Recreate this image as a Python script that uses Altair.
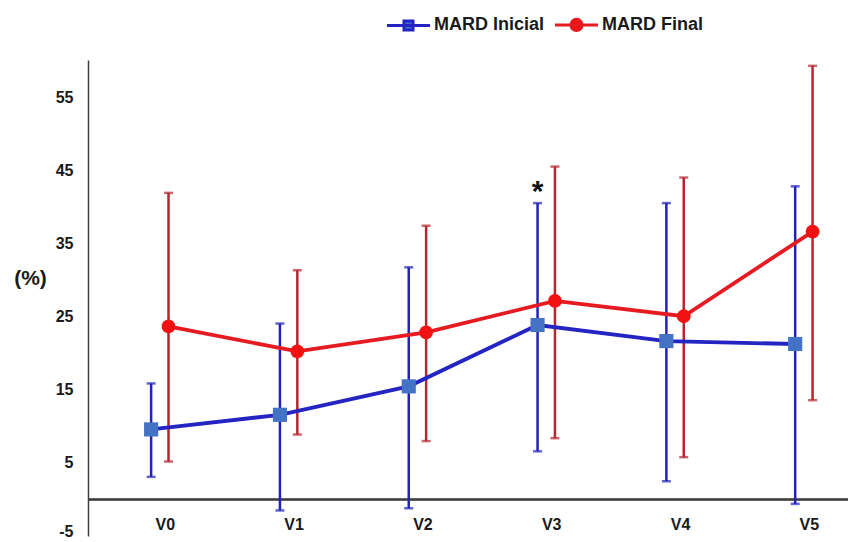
import altair as alt
import pandas as pd

# ---------------- data ----------------
visits = ["V0", "V1", "V2", "V3", "V4", "V5"]
series_names = ["MARD Inicial", "MARD Final"]

inicial_mean = [9.6, 11.6, 15.5, 23.9, 21.7, 21.3]
inicial_low = [3.1, -1.5, -1.2, 6.6, 2.5, -0.6]
inicial_high = [15.9, 24.1, 31.8, 40.6, 40.6, 42.9]

final_mean = [23.7, 20.3, 22.9, 27.2, 25.1, 36.7]
final_low = [5.2, 8.9, 8.0, 8.4, 5.8, 13.6]
final_high = [42.0, 31.4, 37.5, 45.6, 44.1, 59.4]

y_ticks = [-5, 5, 15, 25, 35, 45, 55]
star_visit = "V3"
star_text = "*"

# ---------------- styling ----------------
FONT = "Liberation Sans"
line_colors = {"MARD Inicial": "#2424C2", "MARD Final": "#E61B22"}
bar_colors = {"MARD Inicial": "#2222BB", "MARD Final": "#B5272E"}
marker_colors = {"MARD Inicial": "#4472C4", "MARD Final": "#F21212"}
marker_shapes = {"MARD Inicial": "square", "MARD Final": "circle"}
marker_sizes = {"MARD Inicial": 200, "MARD Final": 190}
x_shift = {"MARD Inicial": -0.01, "MARD Final": 0.125}

legend_paths = [
    "M-2,0H2M-0.42,-0.42H0.42V0.42H-0.42Z",
    "M-2,0H2M0.52,0A0.52,0.52,0,1,1,-0.52,0A0.52,0.52,0,1,1,0.52,0Z",
]

series_data = {
    "MARD Inicial": (inicial_mean, inicial_low, inicial_high),
    "MARD Final": (final_mean, final_low, final_high),
}

rows = []
for s in series_names:
    means, lows, highs = series_data[s]
    for i, v in enumerate(visits):
        rows.append({"series": s, "visit": v, "xpos": i + x_shift[s],
                     "mean": means[i], "low": lows[i], "high": highs[i]})
df = pd.DataFrame(rows)

labels_df = pd.DataFrame({"visit": visits, "lx": [i + 0.1 for i in range(len(visits))]})
star_df = pd.DataFrame({"sx": [visits.index(star_visit) + x_shift["MARD Inicial"]],
                        "txt": [star_text]})

x_scale = alt.Scale(domain=[-0.5, 5.4], nice=False, zero=False)
y_scale = alt.Scale(domain=[-5.0, 60.2], nice=False, zero=False)

y_axis = alt.Axis(
    values=y_ticks, grid=False, ticks=False, domain=True,
    domainColor="#404040", domainWidth=1.5,
    labelFont=FONT, labelFontWeight="bold", labelFontSize=16, labelColor="#1a1a1a",
    labelPadding=15, labelOverlap=False, labelExpr="'' + datum.value",
    labelBaseline={"condition": {"test": "datum.value == -5", "value": "alphabetic"},
                   "value": "middle"},
    title="(%)", titleAngle=0, titleFont=FONT, titleFontSize=21, titleFontWeight="bold",
    titleColor="#1a1a1a", titleX=-58, titleY=218, titleAlign="center", titleBaseline="middle",
)

layers = []

# horizontal axis line at zero
layers.append(
    alt.Chart(labels_df).mark_rule(color="#404040", strokeWidth=1.5).encode(
        y=alt.Y(datum=0, scale=y_scale, axis=y_axis)
    )
)

for s in series_names:
    sub = df[df["series"] == s]
    base = alt.Chart(sub)
    layers.append(
        base.mark_rule(color=bar_colors[s], strokeWidth=2.5).encode(
            x=alt.X("xpos:Q", scale=x_scale, axis=None),
            y=alt.Y("low:Q", scale=y_scale, axis=y_axis),
            y2="high:Q",
        )
    )
    for fld in ["low", "high"]:
        layers.append(
            base.mark_tick(color=bar_colors[s], orient="horizontal", size=9, thickness=2.5).encode(
                x=alt.X("xpos:Q", scale=x_scale, axis=None),
                y=alt.Y(f"{fld}:Q", scale=y_scale, axis=y_axis),
            )
        )

for s in series_names:
    sub = df[df["series"] == s]
    layers.append(
        alt.Chart(sub).mark_line(color=line_colors[s], strokeWidth=3.8).encode(
            x=alt.X("xpos:Q", scale=x_scale, axis=None),
            y=alt.Y("mean:Q", scale=y_scale, axis=y_axis),
        )
    )

for s in series_names:
    sub = df[df["series"] == s]
    layers.append(
        alt.Chart(sub).mark_point(
            shape=marker_shapes[s], filled=True, fill=marker_colors[s],
            color=marker_colors[s], opacity=1, size=marker_sizes[s]
        ).encode(
            x=alt.X("xpos:Q", scale=x_scale, axis=None),
            y=alt.Y("mean:Q", scale=y_scale, axis=y_axis),
        )
    )

# legend-only layer (points placed outside the domain and clipped)
legend_layer = alt.Chart(df).transform_calculate(hidden="-100").mark_point(
    filled=True, clip=True, opacity=1, strokeWidth=3
).encode(
    x=alt.X("xpos:Q", scale=x_scale, axis=None),
    y=alt.Y("hidden:Q", scale=y_scale, axis=y_axis),
    fill=alt.Fill("series:N", scale=alt.Scale(domain=series_names,
                                               range=[marker_colors[s] for s in series_names]),
                  legend=alt.Legend(title=None)),
    stroke=alt.Stroke("series:N", scale=alt.Scale(domain=series_names,
                                                   range=[line_colors[s] for s in series_names]),
                      legend=alt.Legend(title=None)),
    shape=alt.Shape("series:N", scale=alt.Scale(domain=series_names, range=legend_paths),
                    legend=alt.Legend(title=None)),
)
layers.append(legend_layer)

# category labels
layers.append(
    alt.Chart(labels_df).mark_text(
        font=FONT, fontWeight="bold", fontSize=16, color="#1a1a1a", baseline="middle", align="center"
    ).encode(
        x=alt.X("lx:Q", scale=x_scale, axis=None),
        y=alt.Y(datum=-3.5, scale=y_scale, axis=y_axis),
        text="visit:N",
    )
)

# significance marker
layers.append(
    alt.Chart(star_df).mark_text(
        font=FONT, fontWeight="bold", fontSize=30, color="#111111", baseline="alphabetic", align="center"
    ).encode(
        x=alt.X("sx:Q", scale=x_scale, axis=None),
        y=alt.Y(datum=40.9, scale=y_scale, axis=y_axis),
        text="txt:N",
    )
)

chart = alt.layer(*layers).properties(
    width=760, height=476,
    autosize=alt.AutoSizeParams(type="none"),
    padding={"left": 88, "top": 60, "right": 0, "bottom": 6},
    background="white",
).configure_view(stroke=None).configure_legend(
    orient="none", legendX=308, legendY=-48, direction="horizontal",
    labelFont=FONT, labelFontSize=18, labelFontWeight="bold", labelColor="#1a1a1a",
    symbolSize=462, symbolStrokeWidth=3, labelOffset=13, columnPadding=4, padding=0,
    symbolOpacity=1,
)

chart.save("out.html", embed_options={"renderer": "svg", "actions": False})
